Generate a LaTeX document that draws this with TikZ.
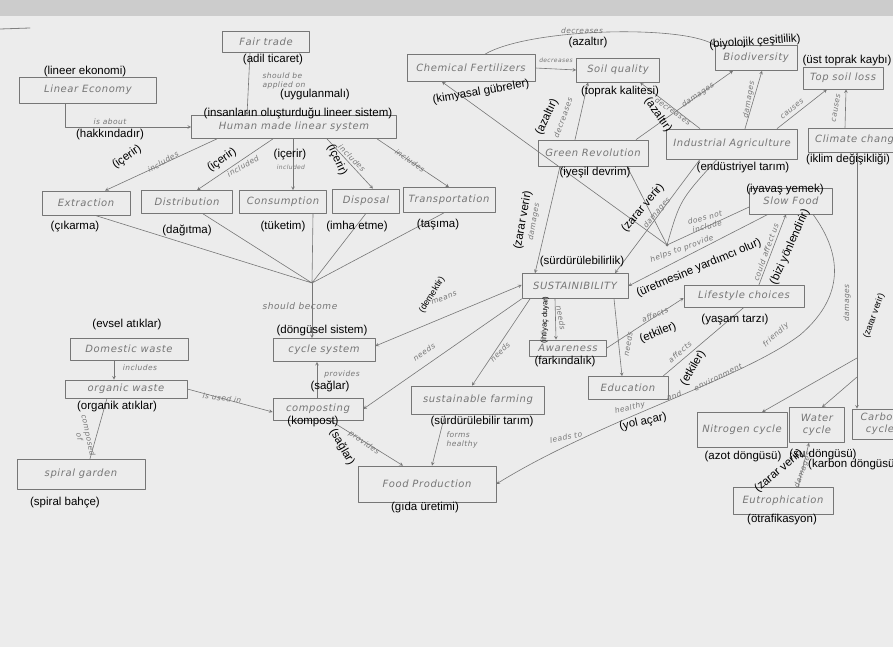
\documentclass[tikz,border=0pt]{standalone}
\usepackage{fontspec}
\newfontfamily\trfont{Liberation Sans}
\newfontfamily\handfont[LetterSpace=6]{DejaVu Sans}
\definecolor{paper}{RGB}{236,236,236}
\definecolor{band}{RGB}{204,204,204}
\definecolor{ink}{RGB}{118,118,118}
\begin{document}
\begin{tikzpicture}[x=1pt,y=-1pt,>=stealth,line join=round,line cap=round,
	box/.style={draw=ink,line width=0.7pt,text=ink,font=\handfont\itshape\fontsize{10}{12}\selectfont,inner sep=1pt,align=center},
	tr/.style={font=\trfont\fontsize{11.5}{13}\selectfont,inner sep=0pt},
	hw/.style={text=ink,font=\handfont\itshape\fontsize{7.5}{9}\selectfont,inner sep=0pt,align=center},
	ln/.style={draw=ink,line width=0.6pt}]
	\useasboundingbox (0,0) rectangle (893,647);
	\clip (0,0) rectangle (893,647);
	\fill[paper] (0,0) rectangle (893,647);
	\fill[band] (0,0) rectangle (893,16);
	\draw[gray,line width=0.8pt] (0,29)--(30,28);
	% boxes, left part
	\node[box,minimum width=87pt,minimum height=21pt] (fair) at (266,42) {Fair trade};
	\node[box,minimum width=137pt,minimum height=26pt] (lin) at (88,90) {Linear Economy};
	\node[box,minimum width=205pt,minimum height=23pt] (human) at (294,127) {Human made linear system};
	\node[box,minimum width=88pt,minimum height=24pt] (extr) at (86,203) {Extraction};
	\node[box,minimum width=91pt,minimum height=23pt] (distr) at (187,202) {Distribution};
	\node[box,minimum width=87pt,minimum height=23pt] (cons) at (283,202) {Consumption};
	\node[box,minimum width=67pt,minimum height=24pt] (disp) at (366,201) {Disposal};
	\node[box,minimum width=92pt,minimum height=25pt] (transp) at (449,200) {Transportation};
	\node[box,minimum width=102pt,minimum height=23pt] (cycle) at (324,350) {cycle system};
	\node[box,minimum width=118pt,minimum height=22pt] (domw) at (129,349) {Domestic waste};
	\node[box,minimum width=122pt,minimum height=18pt] (orgw) at (126,389) {organic waste};
	\node[box,minimum width=128pt,minimum height=30pt] (spiral) at (81,474) {spiral garden};
	\node[box,minimum width=90pt,minimum height=22pt] (compo) at (318,409) {composting};
	\node[box,minimum width=138pt,minimum height=36pt] (food) at (427,484) {Food Production};
	\node[box,minimum width=133pt,minimum height=28pt] (sfarm) at (478,400) {sustainable farming};
	% boxes, right part
	\node[box,minimum width=106pt,minimum height=25pt] (sust) at (575,286) {SUSTAINIBILITY};
	\node[box,minimum width=77pt,minimum height=16pt] (aware) at (568,348) {Awareness};
	\node[box,minimum width=80pt,minimum height=23pt] (edu) at (628,388) {Education};
	\node[box,minimum width=120pt,minimum height=22pt] (life) at (744,296) {Lifestyle choices};
	\node[box,minimum width=83pt,minimum height=26pt] (slow) at (791,201) {Slow Food};
	\node[box,minimum width=128pt,minimum height=27pt] (chem) at (471,68) {Chemical Fertilizers};
	\node[box,minimum width=83pt,minimum height=24pt] (soil) at (618,70) {Soil quality};
	\node[box,minimum width=82pt,minimum height=25pt] (bio) at (756,58) {Biodiversity};
	\node[box,minimum width=80pt,minimum height=22pt] (tsl) at (843,78) {Top soil loss};
	\node[box,minimum width=110pt,minimum height=26pt] (green) at (593,153) {Green Revolution};
	\node[box,minimum width=131pt,minimum height=30pt] (ind) at (732,144) {Industrial Agriculture};
	\node[box,minimum width=100pt,minimum height=24pt] (clim) at (858,140) {Climate change};
	\node[box,minimum width=90pt,minimum height=35pt] (nitro) at (742,430) {Nitrogen cycle};
	\node[box,minimum width=55pt,minimum height=35pt] (water) at (817,425) {Water\\cycle};
	\node[box,minimum width=56pt,minimum height=30pt] (carbon) at (880,424) {Carbon\\cycle};
	\node[box,minimum width=100pt,minimum height=27pt] (eutro) at (783,501) {Eutrophication};
	\coordinate (conv) at (312,283);
	\coordinate (jn) at (667,245);
	\coordinate (br1) at (857,358);
	\coordinate (br2) at (857,377);
	% connectors
	\draw[ln,->] ([xshift=-23pt]lin.south) |- (human.west);
	\draw[ln,->] ([xshift=-16pt]fair.south) -- ([xshift=-47pt]human.north);
	\draw[ln,->] ([xshift=-77pt]human.south) -- ([xshift=19pt]extr.north);
	\draw[ln,->] ([xshift=-21pt]human.south) -- ([xshift=10pt]distr.north);
	\draw[ln,->] ([xshift=-1pt]human.south) -- ([xshift=10pt]cons.north);
	\draw[ln,->] ([xshift=33pt]human.south) -- ([xshift=7pt]disp.north);
	\draw[ln,->] ([xshift=83pt]human.south) -- (transp.north);
	\draw[ln] ([xshift=9pt]extr.south) -- (conv) ([xshift=16pt]distr.south) -- (conv)
		([xshift=30pt]cons.south) -- (conv) (disp.south) -- (conv) ([xshift=-5pt]transp.south) -- (conv);
	\draw[ln,->] (conv) -- ([xshift=-12pt]cycle.north);
	\draw[ln,->] ([xshift=-15pt]domw.south) -- ([xshift=-12pt]orgw.north);
	\draw[ln] ([xshift=-19pt]orgw.south) -- ([xshift=9pt]spiral.north);
	\draw[ln,->] (orgw.east) -- ([yshift=-3pt]compo.west);
	\draw[ln,->] ([xshift=-1pt]compo.north) -- ([xshift=-7pt]cycle.south);
	\draw[ln,->] ([xshift=12pt]compo.south) -- ([xshift=-24pt]food.north);
	\draw[ln,<->] ([yshift=1pt]sust.west) -- ([yshift=4pt]cycle.east);
	\draw[ln,->] (sust.south west) -- (compo.east);
	\draw[ln,->] ([xshift=-45pt]sust.south) -- ([xshift=-6pt]sfarm.north);
	\draw[ln,->] ([xshift=-33pt]sfarm.south) -- ([xshift=5pt]food.north);
	\draw[ln,->] ([xshift=-20pt]sust.south) -- ([xshift=-12pt]aware.north);
	\draw[ln,->] ([xshift=39pt]sust.south) -- ([xshift=-6pt]edu.north);
	\draw[ln,->] (aware.east) -- ([yshift=-2pt]life.west);
	\draw[ln] ([xshift=35pt]edu.north) -- (life.south);
	\draw[ln,->] ([xshift=15pt]life.north) -- ([xshift=-5pt]slow.south);
	\draw[ln,->] ([xshift=-23pt]slow.south) -- (sust.east);
	\draw[ln] ([yshift=-6pt]slow.west) -- (jn);
	\draw[ln,->] ([xshift=22pt]slow.south) .. controls (850,265) and (835,305) .. (800,335)
		.. controls (740,380) and (600,420) .. (food.east);
	\draw[ln,->] (chem.east) -- (soil.west);
	\draw[ln,->] ([xshift=14pt]chem.north) .. controls (530,28) and (680,25) .. (bio.north west);
	\draw[ln,->] ([xshift=-18pt]green.north) -- ([xshift=-30pt]soil.south);
	\draw[ln,->] ([xshift=-32pt]ind.north) -- ([xshift=22pt]soil.south);
	\draw[ln,->] ([xshift=43pt]green.north) -- ([xshift=-23pt]bio.south);
	\draw[ln,->] ([xshift=13pt]ind.north) -- ([xshift=6pt]bio.south);
	\draw[ln,->] ([xshift=45pt]ind.north) -- ([xshift=-16pt]tsl.south);
	\draw[ln,->] ([xshift=-13pt]clim.north) -- ([xshift=3pt]tsl.south);
	\draw[ln,->] (jn) -- ([xshift=-29pt]chem.south);
	\draw[ln,->] (jn) -- ([xshift=34pt]green.south);
	\draw[ln] (jn) .. controls (680,200) .. ([xshift=-15pt]ind.south);
	\fill[ink] (jn) circle(1.5pt);
	\draw[ln,->] ([xshift=-33pt]green.south) -- ([xshift=-40pt]sust.north);
	\draw[ln,->] ([xshift=-32pt]ind.south) -- ([xshift=40pt]sust.north);
	\draw[ln,->] ([xshift=-1pt]clim.south) -- ([xshift=-1pt]clim.south |- carbon.north);
	\draw[ln,->] (br1) -- ([xshift=20pt]nitro.north);
	\draw[ln,->] (br2) -- ([xshift=5pt]water.north);
	\draw[ln,->] ([xshift=15pt]eutro.north) -- ([xshift=-8pt]water.south);
	% handwritten link words
	\node[hw,align=left] (t1) at (284,81) {should be\\applied on};
	\node[hw] (t2) at (110,122) {is about};
	\node[hw,rotate=30] (t3) at (163,162) {includes};
	\node[hw,rotate=30] (t4) at (243,166) {included};
	\node[hw,font=\handfont\itshape\fontsize{6}{7}\selectfont] (t5) at (291,167) {included};
	\node[hw,rotate=-45] (t6) at (352,158) {includes};
	\node[hw,rotate=-35] (t7) at (410,161) {includes};
	\node[hw,font=\handfont\itshape\fontsize{9}{10}\selectfont] (t8) at (300,306) {should become};
	\node[hw] (t9) at (140,368) {includes};
	\node[hw,rotate=-78] (t10) at (84,436) {composed\\of};
	\node[hw,rotate=-8] (t11) at (222,398) {is used in};
	\node[hw] (t12) at (342,374) {provides};
	\node[hw,rotate=-35] (t13) at (364,443) {provides};
	\node[hw,rotate=22] (t14) at (444,298) {means};
	\node[hw,rotate=33] (t15) at (424,352) {needs};
	\node[hw,rotate=45] (t16) at (500,352) {needs};
	\node[hw,align=left] (t17) at (462,440) {forms\\healthy};
	\node[hw,rotate=-80] (t18) at (561,318) {needs};
	\node[hw,rotate=80] (t19) at (628,344) {needs};
	\node[hw,rotate=22] (t20) at (655,315) {affects};
	\node[hw,rotate=40] (t21) at (680,352) {affects};
	\node[hw,rotate=12] (t22) at (566,437) {leads to};
	\node[hw,rotate=14] (t23) at (630,408) {healthy};
	\node[hw,rotate=18] (t24) at (674,396) {and};
	\node[hw,rotate=26] (t25) at (718,377) {environment};
	\node[hw,rotate=42] (t26) at (776,335) {friendly};
	\node[hw,rotate=70] (t27) at (766,252) {could affect us};
	\node[hw,rotate=20] (t28) at (682,249) {helps to provide};
	\node[hw,rotate=15] (t29) at (706,222) {does not\\include};
	\node[hw,rotate=80] (t30) at (534,222) {damages};
	\node[hw,rotate=50] (t31) at (657,213) {damages};
	\node[hw,font=\handfont\itshape\fontsize{6}{7}\selectfont] (t32) at (556,60) {decreases};
	\node[hw] (t33) at (582,31) {decreases};
	\node[hw,rotate=70] (t34) at (563,118) {decreases};
	\node[hw,rotate=-35] (t35) at (673,111) {decreases};
	\node[hw,rotate=35] (t36) at (698,95) {damages};
	\node[hw,rotate=80] (t37) at (749,100) {damages};
	\node[hw,rotate=40] (t38) at (792,109) {causes};
	\node[hw,rotate=80] (t39) at (836,108) {causes};
	\node[hw,rotate=90] (t40) at (847,303) {damages};
	\node[hw,rotate=70] (t41) at (803,470) {damages};
	% Turkish labels
	\node[tr] (l1) at (85,72) {(lineer ekonomi)};
	\node[tr] (l2) at (273,60) {(adil ticaret)};
	\node[tr] (l3) at (315,95) {(uygulanmalı)};
	\node[tr] (l4) at (298,113) {(insanların oluşturduğu lineer sistem)};
	\node[tr] (l5) at (110,135) {(hakkındadır)};
	\node[tr,rotate=35] (l6) at (127,157) {(içerir)};
	\node[tr,rotate=35] (l7) at (222,160) {(içerir)};
	\node[tr] (l8) at (290,155) {(içerir)};
	\node[tr,rotate=-65] (l9) at (337,160) {(içerir)};
	\node[tr] (l10) at (75,227) {(çıkarma)};
	\node[tr] (l11) at (187,230) {(dağıtma)};
	\node[tr] (l12) at (283,227) {(tüketim)};
	\node[tr] (l13) at (357,227) {(imha etme)};
	\node[tr] (l14) at (438,225) {(taşıma)};
	\node[tr] (l15) at (127,325) {(evsel atıklar)};
	\node[tr] (l16) at (322,331) {(döngüsel sistem)};
	\node[tr] (l17) at (330,386) {(sağlar)};
	\node[tr] (l18) at (117,407) {(organik atıklar)};
	\node[tr] (l19) at (313,422) {(kompost)};
	\node[tr,rotate=-60] (l20) at (342,447) {(sağlar)};
	\node[tr] (l21) at (65,503) {(spiral bahçe)};
	\node[tr] (l22) at (425,508) {(gıda üretimi)};
	\node[tr] (l23) at (482,422) {(sürdürülebilir tarım)};
	\node[tr,rotate=58,font=\trfont\fontsize{9}{11}\selectfont] (l24) at (432,295) {(demektir)};
	\node[tr] (l25) at (582,262) {(sürdürülebilirlik)};
	\node[tr,rotate=23] (l26) at (699,268) {(üretmesine yardımcı olur)};
	\node[tr,rotate=66] (l27) at (790,247) {(bizi yönlendirir)};
	\node[tr,rotate=88,font=\trfont\fontsize{7.5}{9}\selectfont] (l28) at (545,320) {(ihtiyaç duyar)};
	\node[tr] (l29) at (565,362) {(farkındalık)};
	\node[tr,rotate=22] (l30) at (658,333) {(etkiler)};
	\node[tr,rotate=60] (l31) at (693,368) {(etkiler)};
	\node[tr] (l32) at (735,320) {(yaşam tarzı)};
	\node[tr,rotate=12] (l33) at (643,422) {(yol açar)};
	\node[tr,rotate=80] (l34) at (523,220) {(zarar verir)};
	\node[tr,rotate=50] (l35) at (643,208) {(zarar verir)};
	\node[tr] (l36) at (595,173) {(iyeşil devrim)};
	\node[tr] (l37) at (743,168) {(endüstriyel tarım)};
	\node[tr,anchor=west] (l38) at (806,159) {(iklim değişikliği)};
	\node[tr] (l39) at (785,190) {(iyavaş yemek)};
	\node[tr] (l40) at (588,43) {(azaltır)};
	\node[tr,rotate=10] (l41) at (481,92) {(kimyasal gübreler)};
	\node[tr] (l42) at (620,92) {(toprak kalitesi)};
	\node[tr,rotate=65] (l43) at (547,117) {(azaltır)};
	\node[tr,rotate=-55] (l44) at (658,115) {(azaltır)};
	\node[tr,rotate=4] (l45) at (755,42) {(biyolojik çeşitlilik)};
	\node[tr] (l46) at (847,61) {(üst toprak kaybı)};
	\node[tr,rotate=70,font=\trfont\fontsize{9}{11}\selectfont] (l47) at (874,316) {(zarar verir)};
	\node[tr] (l48) at (743,457) {(azot döngüsü)};
	\node[tr] (l49) at (823,455) {(su döngüsü)};
	\node[tr,anchor=west] (l50) at (808,465) {(karbon döngüsü)};
	\node[tr,rotate=40] (l51) at (779,471) {(zarar verir)};
	\node[tr] (l52) at (782,520) {(ötrafikasyon)};
\end{tikzpicture}
\end{document}
